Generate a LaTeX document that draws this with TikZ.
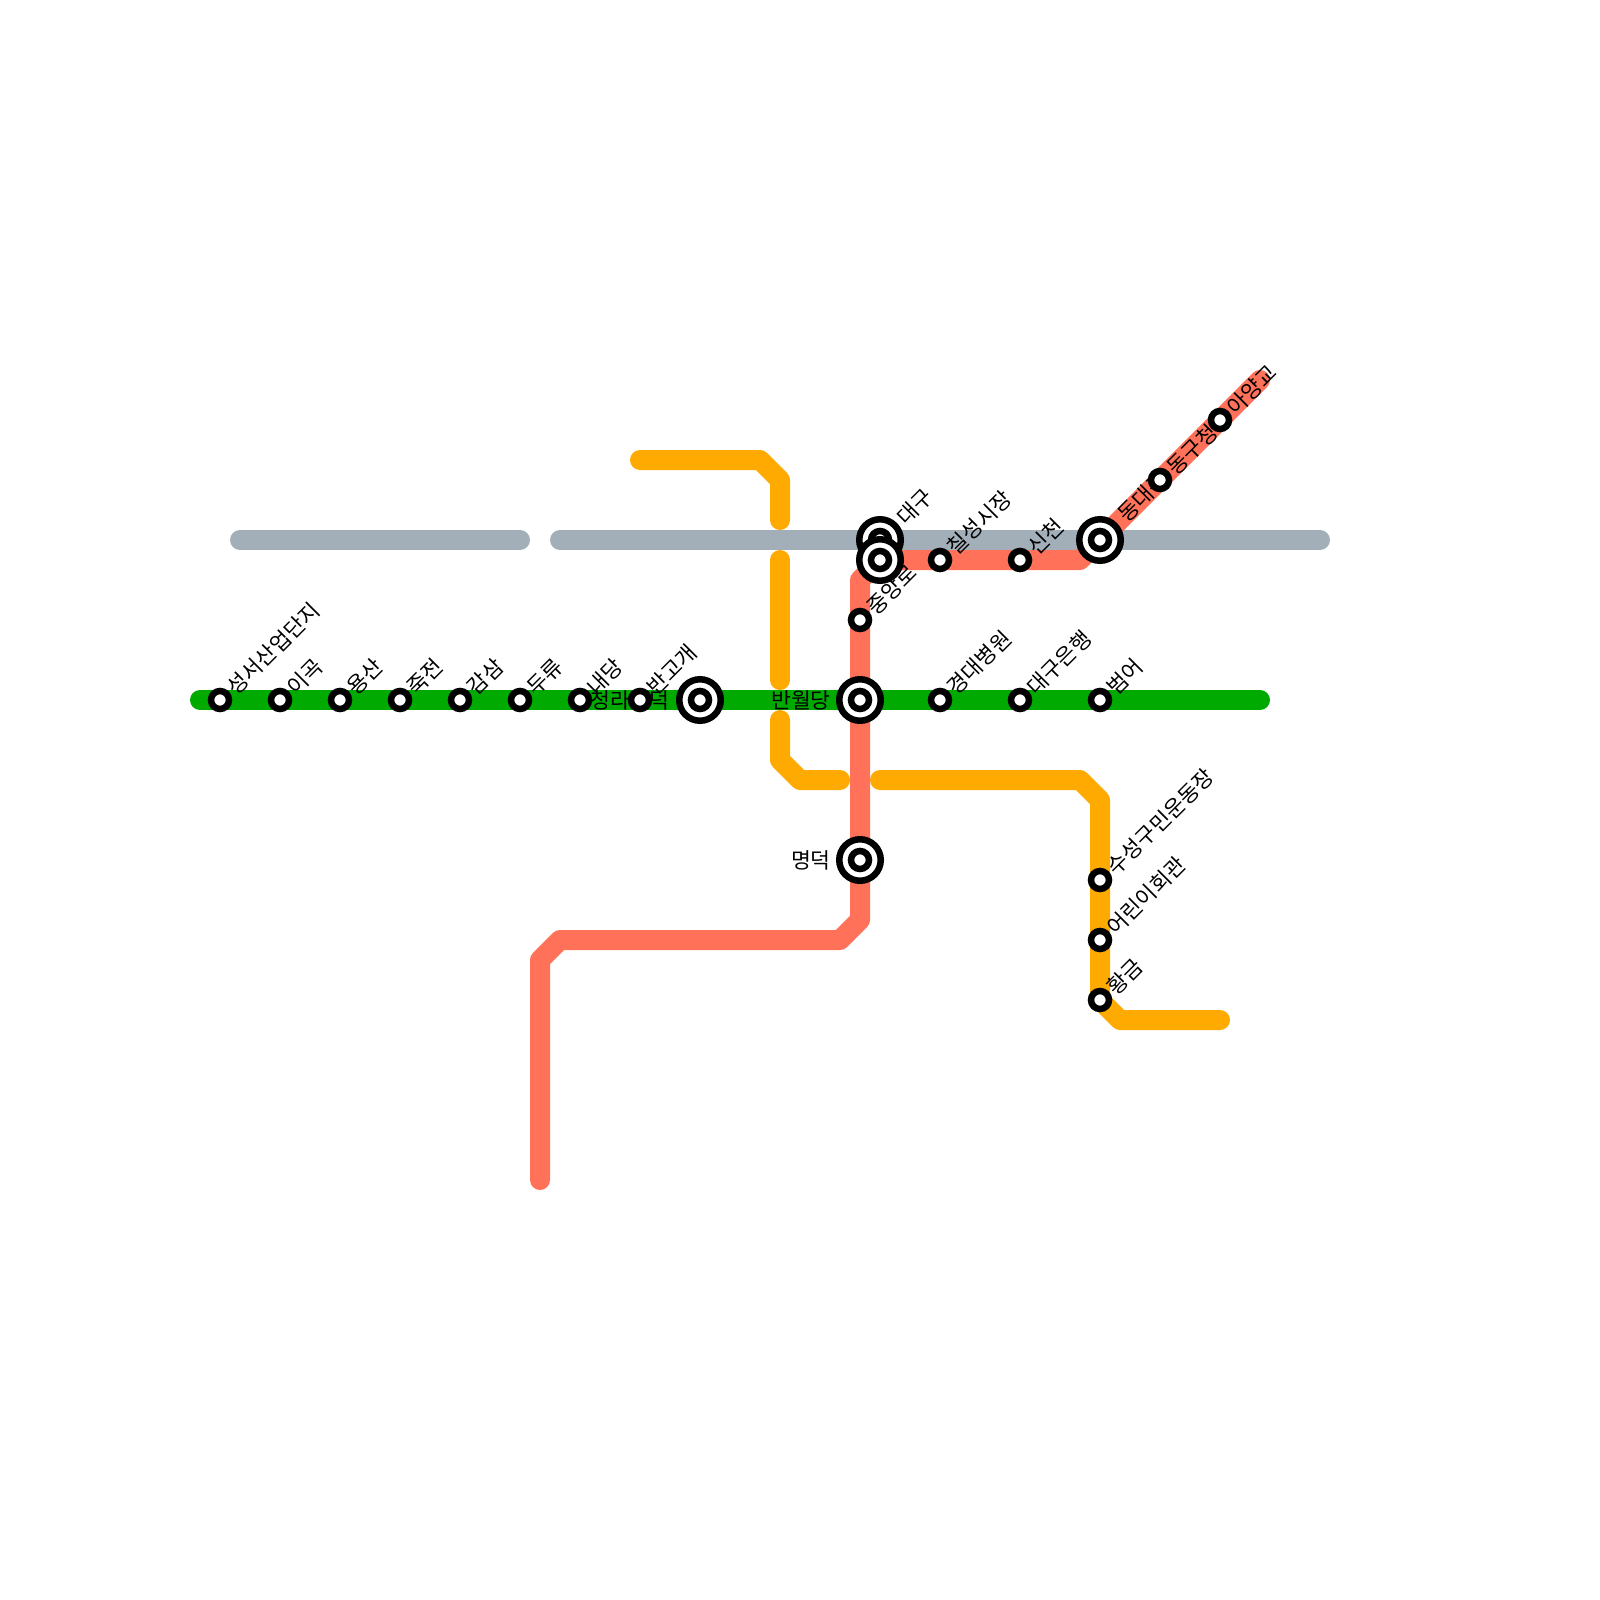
\documentclass[tikz,border=0pt]{standalone}
\usepackage{fontspec}
\setmainfont{Noto Sans CJK KR}
\definecolor{lgreen}{HTML}{00AA00}
\definecolor{lgrey}{HTML}{A2AFB8}
\definecolor{lred}{HTML}{FF7159}
\definecolor{lorange}{HTML}{FFAA00}
\tikzset{
  metro/.style={line width=20pt,line cap=round,line join=round},
  small/.style={circle,draw=black,fill=white,line width=6.5pt,minimum size=18pt,inner sep=0pt},
  bigout/.style={circle,draw=black,fill=white,line width=6.5pt,minimum size=41.5pt,inner sep=0pt},
  ne/.style={rotate=45,anchor=west,inner sep=0pt,font=\fontsize{21.6pt}{22pt}\selectfont},
  lft/.style={anchor=east,inner sep=0pt,font=\fontsize{21.6pt}{22pt}\selectfont},
}
\newcommand{\stn}[3]{\node[small] (#1) at (#2,#3) {};}
\newcommand{\bigstn}[3]{\node[bigout] (#1) at (#2,#3) {};\node[small] (#1i) at (#2,#3) {};}
\begin{document}
\begin{tikzpicture}[x=1pt,y=-1pt]
\useasboundingbox (0,0) rectangle (1600,1600);
% bends and line ends
\coordinate (gL) at (200,700); \coordinate (gR) at (1260,700);
\coordinate (a1) at (240,540); \coordinate (a2) at (520,540);
\coordinate (a3) at (560,540); \coordinate (a4) at (1320,540);
\coordinate (o1) at (640,460); \coordinate (o2) at (760,460); \coordinate (o3) at (780,480); \coordinate (o4) at (780,520);
\coordinate (o5) at (780,560); \coordinate (o6) at (780,680);
\coordinate (o7) at (780,720); \coordinate (o8) at (780,760); \coordinate (o9) at (800,780); \coordinate (o10) at (840,780);
\coordinate (o11) at (880,780); \coordinate (o12) at (1080,780); \coordinate (o13) at (1100,800); \coordinate (o14) at (1100,1000); \coordinate (o15) at (1120,1020); \coordinate (o16) at (1220,1020);
\coordinate (r1) at (540,1180); \coordinate (r2) at (540,960); \coordinate (r3) at (560,940); \coordinate (r4) at (840,940); \coordinate (r5) at (860,920); \coordinate (r6) at (860,580); \coordinate (r7) at (880,560); \coordinate (r8) at (1080,560); \coordinate (r9) at (1260,380);
% lines
\draw[metro,lgrey] (a1) -- (a2);
\draw[metro,lgrey] (a3) -- (a4);
\draw[metro,lorange] (o1) -- (o2) -- (o3) -- (o4);
\draw[metro,lorange] (o5) -- (o6);
\draw[metro,lorange] (o7) -- (o8) -- (o9) -- (o10);
\draw[metro,lorange] (o11) -- (o12) -- (o13) -- (o14) -- (o15) -- (o16);
\draw[metro,lgreen] (gL) -- (gR);
\draw[metro,lred] (r1) -- (r2) -- (r3) -- (r4) -- (r5) -- (r6) -- (r7) -- (r8) -- (r9);
% labels
\node[ne] (t1) at (231,691) {성서산업단지};
\node[ne] (t2) at (291,691) {이곡};
\node[ne] (t3) at (351,691) {용산};
\node[ne] (t4) at (411,691) {죽전};
\node[ne] (t5) at (471,691) {감삼};
\node[ne] (t6) at (531,691) {두류};
\node[ne] (t7) at (591,691) {내당};
\node[ne] (t8) at (651,691) {반고개};
\node[lft] (t9) at (670,700) {청라언덕};
\node[lft] (t10) at (831,700) {반월당};
\node[ne] (t11) at (951,691) {경대병원};
\node[ne] (t12) at (1031,691) {대구은행};
\node[ne] (t13) at (1111,691) {범어};
\node[ne] (t14) at (901,521) {대구};
\node[ne] (t15) at (951,551) {칠성시장};
\node[ne] (t16) at (1031,551) {신천};
\node[ne] (t17) at (871,611) {중앙로};
\node[ne] (t19) at (1122,518) {동대구};
\node[ne] (t20) at (1171,471) {동구청};
\node[ne] (t21) at (1231,411) {아양교};
\node[lft] (t22) at (831,860) {명덕};
\node[ne] (t23) at (1111,871) {수성구민운동장};
\node[ne] (t24) at (1111,931) {어린이회관};
\node[ne] (t25) at (1111,991) {황금};
% stations
\stn{s1}{220}{700}\stn{s2}{280}{700}\stn{s3}{340}{700}\stn{s4}{400}{700}
\stn{s5}{460}{700}\stn{s6}{520}{700}\stn{s7}{580}{700}\stn{s8}{640}{700}
\bigstn{s9}{700}{700}\bigstn{s10}{860}{700}
\stn{s11}{940}{700}\stn{s12}{1020}{700}\stn{s13}{1100}{700}
\bigstn{s14}{880}{540}\bigstn{s15}{880}{560}
\stn{s16}{860}{620}\stn{s17}{940}{560}\stn{s18}{1020}{560}
\bigstn{s19}{1100}{540}\stn{s20}{1160}{480}\stn{s21}{1220}{420}
\bigstn{s22}{860}{860}
\stn{s23}{1100}{880}\stn{s24}{1100}{940}\stn{s25}{1100}{1000}
\end{tikzpicture}
\end{document}
